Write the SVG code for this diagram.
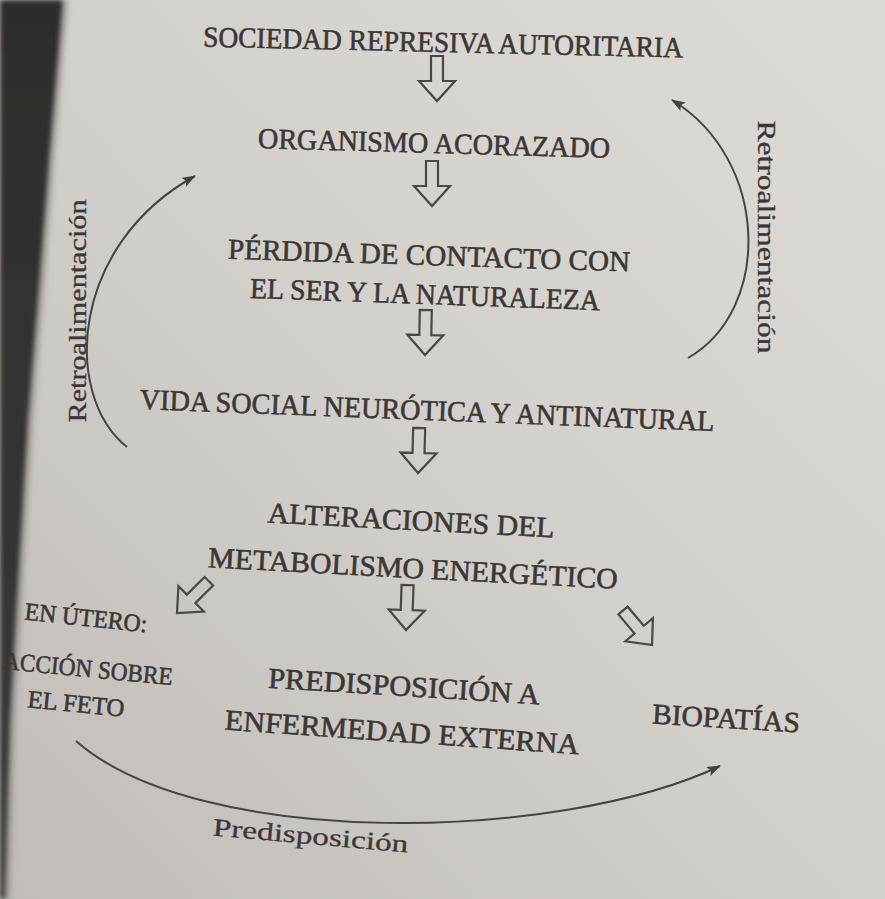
<svg xmlns="http://www.w3.org/2000/svg" width="885" height="899" viewBox="0 0 885 899">
  <defs>
    <linearGradient id="page" x1="1" y1="0" x2="0" y2="1">
      <stop offset="0" stop-color="#dedad6"/>
      <stop offset="0.5" stop-color="#d3cfca"/>
      <stop offset="1" stop-color="#c1bcb7"/>
    </linearGradient>
    <linearGradient id="band" x1="0" y1="0" x2="0" y2="1">
      <stop offset="0" stop-color="#2e2c2b"/>
      <stop offset="1" stop-color="#3b3836"/>
    </linearGradient>
    <filter id="soft" x="-20%" y="-5%" width="140%" height="110%">
      <feGaussianBlur stdDeviation="2.5"/>
    </filter>
    <path id="barrow" d="M-6,-45 H6 V-20 H18 L0,0 L-18,-20 H-6 Z"/>
    <marker id="head" markerUnits="userSpaceOnUse" markerWidth="16" markerHeight="12" refX="13" refY="5" orient="auto">
      <path d="M0,0 L14,5 L0,10 L3,5 Z" fill="#444140"/>
    </marker>
    <style>
      .t { font-family: "Liberation Serif", "DejaVu Serif", serif; fill: #3a3836; stroke: #3a3836; stroke-width: 0.6; font-size: 29px; text-anchor: middle; }
      .s { font-size: 25px; }
      .lab { font-family: "Liberation Serif", "DejaVu Serif", serif; fill: #3a3836; stroke: #3a3836; stroke-width: 0.3; font-size: 25px; text-anchor: middle; }
      .ba { fill: none; stroke: #4a4744; stroke-width: 2.2; stroke-linejoin: miter; }
      .cv { fill: none; stroke: #464341; stroke-width: 2; }
    </style>
  </defs>

  <rect x="0" y="0" width="885" height="899" fill="url(#page)"/>
  <path d="M0,0 L69,0 L56,150 L44,300 L34,420 L23,600 L16,720 L11,899 L0,899 Z" fill="#8f8a86" opacity="0.5" filter="url(#soft)"/>
  <path d="M0,0 L63,0 L50,150 L38,300 L28,420 L17,600 L10,720 L5,899 L0,899 Z" fill="url(#band)" filter="url(#soft)"/>

  <g id="connectors">
    <use href="#barrow" class="ba" transform="translate(437,101)"/>
    <use href="#barrow" class="ba" transform="translate(432,206)"/>
    <use href="#barrow" class="ba" transform="translate(425,355) rotate(1)"/>
    <use href="#barrow" class="ba" transform="translate(418,473) rotate(1.5)"/>
    <use href="#barrow" class="ba" transform="translate(406,630) rotate(2)"/>
    <use href="#barrow" class="ba" transform="translate(177,613) rotate(45)"/>
    <use href="#barrow" class="ba" transform="translate(652,645) rotate(-40)"/>
    <path class="cv" d="M127,447 C 62,395 70,245 195,176" marker-end="url(#head)"/>
    <path class="cv" d="M688,358 C 772,310 770,160 672,100" marker-end="url(#head)"/>
    <path class="cv" d="M76,741 C 200,850 560,842 720,766" marker-end="url(#head)"/>
  </g>

  <g id="n-sociedad"><text class="t" x="443" y="52" textLength="480" lengthAdjust="spacingAndGlyphs" transform="rotate(1.3 443 45)">SOCIEDAD REPRESIVA AUTORITARIA</text></g>
  <g id="n-organismo"><text class="t" x="434" y="153" textLength="352" lengthAdjust="spacingAndGlyphs" transform="rotate(1.6 434 145)">ORGANISMO ACORAZADO</text></g>
  <g id="n-perdida">
    <text class="t" x="429" y="265" textLength="402" lengthAdjust="spacingAndGlyphs" transform="rotate(1.8 429 257)">PÉRDIDA DE CONTACTO CON</text>
    <text class="t" x="425" y="304" textLength="350" lengthAdjust="spacingAndGlyphs" transform="rotate(2 425 296)">EL SER Y LA NATURALEZA</text>
  </g>
  <g id="n-vida"><text class="t" x="427" y="420" textLength="575" lengthAdjust="spacingAndGlyphs" transform="rotate(2.2 427 412)">VIDA SOCIAL NEURÓTICA Y ANTINATURAL</text></g>
  <g id="n-alteraciones">
    <text class="t" x="411" y="530" textLength="287" lengthAdjust="spacingAndGlyphs" transform="rotate(3 411 522)">ALTERACIONES DEL</text>
    <text class="t" x="413" y="578" textLength="410" lengthAdjust="spacingAndGlyphs" transform="rotate(3 413 570)">METABOLISMO ENERGÉTICO</text>
  </g>
  <g id="n-utero">
    <text class="t s" x="86" y="626" textLength="123" lengthAdjust="spacingAndGlyphs" transform="rotate(6 86 618)">EN ÚTERO:</text>
    <text class="t s" x="88" y="677" textLength="170" lengthAdjust="spacingAndGlyphs" transform="rotate(5.5 88 669)">ACCIÓN SOBRE</text>
    <text class="t s" x="76" y="712" textLength="97" lengthAdjust="spacingAndGlyphs" transform="rotate(5.5 76 704)">EL FETO</text>
  </g>
  <g id="n-predisposicion">
    <text class="t" x="404" y="696" textLength="272" lengthAdjust="spacingAndGlyphs" transform="rotate(3.5 404 687)">PREDISPOSICIÓN A</text>
    <text class="t" x="402" y="742" textLength="355" lengthAdjust="spacingAndGlyphs" transform="rotate(4 402 733)">ENFERMEDAD EXTERNA</text>
  </g>
  <g id="n-biopatias"><text class="t" x="726" y="728" textLength="148" lengthAdjust="spacingAndGlyphs" font-size="27" transform="rotate(3.5 726 720)">BIOPATÍAS</text></g>

  <g id="labels">
    <text class="lab" x="0" y="0" textLength="223" lengthAdjust="spacingAndGlyphs" transform="translate(86,311) rotate(-90)">Retroalimentación</text>
    <text class="lab" x="0" y="0" textLength="233" lengthAdjust="spacingAndGlyphs" transform="translate(758,237) rotate(90)">Retroalimentación</text>
    <text class="lab" x="0" y="0" textLength="196" lengthAdjust="spacingAndGlyphs" font-size="29" transform="translate(310,844) rotate(5)">Predisposición</text>
  </g>
</svg>
